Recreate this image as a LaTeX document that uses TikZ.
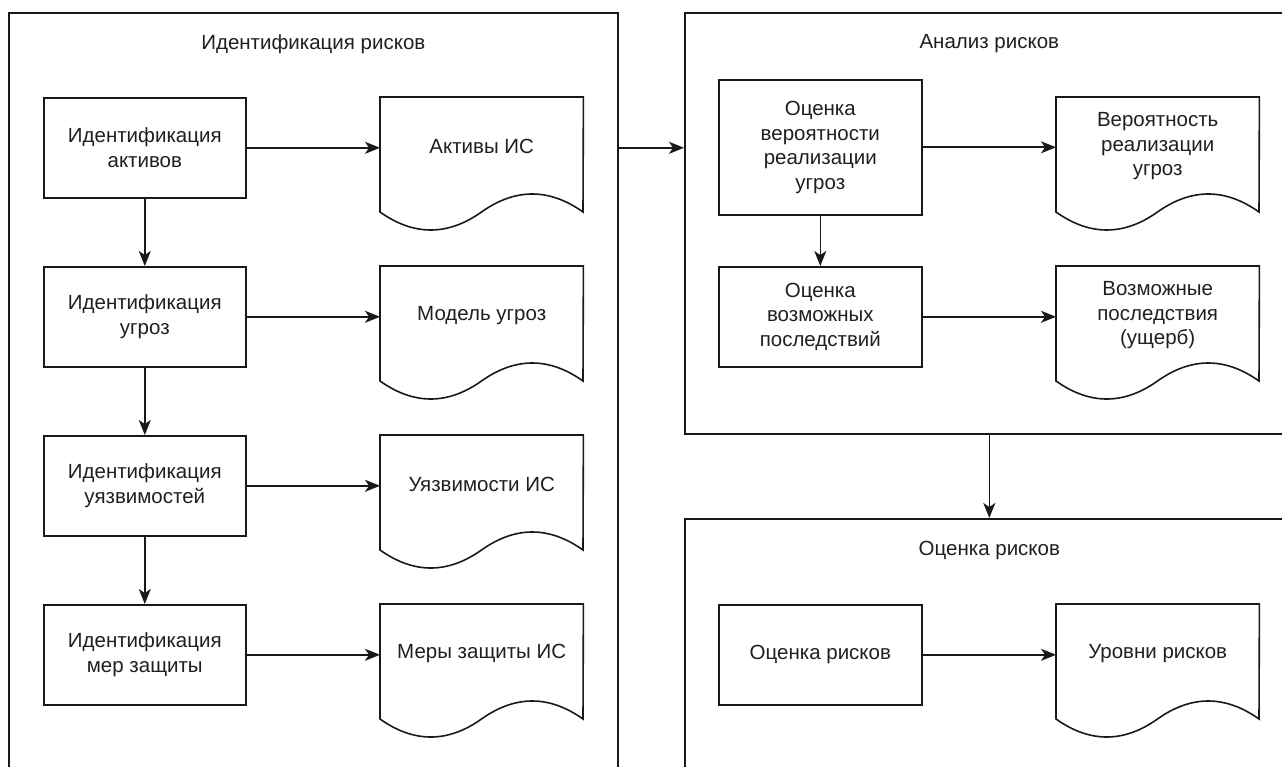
\documentclass[tikz,border=0pt]{standalone}
\usepackage{fontspec}
\setmainfont{Liberation Sans}
\usetikzlibrary{arrows.meta,calc}
\begin{document}
\begin{tikzpicture}[x=1pt,y=-1pt,
  every node/.style={font=\fontsize{20.5}{24.5}\selectfont, text=black!88},
  lw/.style={line width=1.6pt, draw=black!90},
  cont/.style={lw, draw, anchor=north west, inner sep=0pt, minimum width=609pt},
  proc/.style={lw, draw, anchor=north west, inner sep=0pt, align=center, minimum width=202pt, minimum height=100pt},
  docbox/.style={anchor=north west, inner sep=0pt, align=center, minimum width=203pt, minimum height=98pt},
  arr/.style={lw, -{Stealth[length=15pt,width=12pt,inset=4pt]}},
  ttl/.style={inner sep=0pt}
]
\useasboundingbox (0,0) rectangle (1282,767);
\clip (0,0) rectangle (1282,767);

% containers
\node[cont, minimum height=820pt] (L) at (8,12) {};
\node[cont, minimum height=421pt] (R) at (684,12) {};
\node[cont, minimum height=320pt] (O) at (684,518) {};
\node[ttl] (tL) at ($(L.north)+(0,32)$) {Идентификация рисков};
\node[ttl] (tR) at ($(R.north)+(0,32)$) {Анализ рисков};
\node[ttl] (tO) at ($(O.north)+(0,32)$) {Оценка рисков};

% left column processes
\node[proc] (b1) at (43,97)  {Идентификация\\активов};
\node[proc] (b2) at (43,266) {Идентификация\\угроз};
\node[proc] (b3) at (43,435) {Идентификация\\уязвимостей};
\node[proc] (b4) at (43,604) {Идентификация\\мер защиты};

% left column documents
\node[docbox] (d1) at (380,97)  {Активы ИС};
\node[docbox] (d2) at (380,266) {Модель угроз};
\node[docbox] (d3) at (380,435) {Уязвимости ИС};
\node[docbox] (d4) at (380,604) {Меры защиты ИС};

% right processes
\node[proc, minimum width=203pt, minimum height=135pt] (r1) at (718,79) {Оценка\\вероятности\\реализации\\угроз};
\node[proc, minimum width=203pt] (r2) at (718,266) {Оценка\\возможных\\последствий};
\node[proc, minimum width=203pt] (r3) at (718,604) {Оценка рисков};

% right documents
\node[docbox] (e1) at (1056,97)  {Вероятность\\реализации\\угроз};
\node[docbox] (e2) at (1056,266) {Возможные\\последствия\\(ущерб)};
\node[docbox] (e3) at (1056,604) {Уровни рисков};

% document outlines
\foreach \n in {d1,d2,d3,d4,e1,e2,e3} {
  \draw[lw] (\n.north west) -- (\n.north east) -- ($(\n.north west)+(203,115)$)
    .. controls ($(\n.north west)+(169.2,91)$) and ($(\n.north west)+(135.3,91)$) .. ($(\n.north west)+(101.5,115)$)
    .. controls ($(\n.north west)+(67.7,139)$) and ($(\n.north west)+(33.8,139)$) .. ($(\n.north west)+(0,115)$) -- cycle;
}

% connectors
\draw[arr] (b1.east) -- (b1.east -| d1.west);
\draw[arr] (b2.east) -- (b2.east -| d2.west);
\draw[arr] (b3.east) -- (b3.east -| d3.west);
\draw[arr] (b4.east) -- (b4.east -| d4.west);
\draw[arr] (b1.south) -- (b2.north);
\draw[arr] (b2.south) -- (b3.north);
\draw[arr] (b3.south) -- (b4.north);
\draw[arr] (L.east |- b1.east) -- (R.west |- b1.east);
\draw[arr] (r1.east) -- (r1.east -| e1.west);
\draw[arr] (r2.east) -- (r2.east -| e2.west);
\draw[arr] (r3.east) -- (r3.east -| e3.west);
\draw[arr] (r1.south) -- (r2.north);
\draw[arr] (R.south) -- (O.north);
\end{tikzpicture}
\end{document}
